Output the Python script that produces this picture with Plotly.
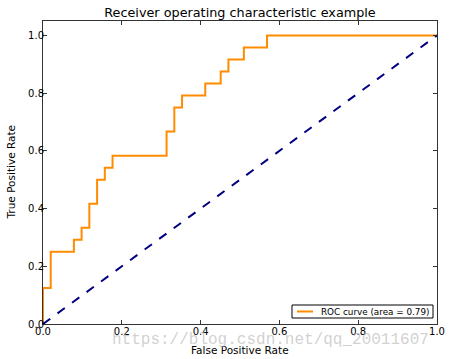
import plotly.graph_objects as go

fpr = [0.0, 0.0, 0.0196, 0.0196, 0.0784, 0.0784, 0.0980, 0.0980, 0.1176, 0.1176,
       0.1373, 0.1373, 0.1569, 0.1569, 0.1765, 0.1765, 0.3137, 0.3137, 0.3333, 0.3333,
       0.3529, 0.3529, 0.4118, 0.4118, 0.4510, 0.4510, 0.4706, 0.4706, 0.5098, 0.5098,
       0.5686, 0.5686, 1.0]
tpr = [0.0, 0.125, 0.125, 0.25, 0.25, 0.2917, 0.2917, 0.3333, 0.3333, 0.4167,
       0.4167, 0.5, 0.5, 0.5417, 0.5417, 0.5833, 0.5833, 0.6667, 0.6667, 0.75,
       0.75, 0.7917, 0.7917, 0.8333, 0.8333, 0.875, 0.875, 0.9167, 0.9167, 0.9583,
       0.9583, 1.0, 1.0]
chance_x = [0.0, 1.0]
chance_y = [0.0, 1.0]
roc_auc = 0.79
tick_vals = [0.0, 0.2, 0.4, 0.6, 0.8, 1.0]
tick_text = ["0.0", "0.2", "0.4", "0.6", "0.8", "1.0"]

font = "DejaVu Sans"
ORANGE = "#FF8C00"

# plot area in pixels
L, R, T, B = 43, 437, 21, 324
W, H = 450, 359
pw, ph = R - L, B - T

def px(x):
    return (x - L) / pw

def py(y):
    return (B - y) / ph

fig = go.Figure()
fig.add_trace(go.Scatter(x=fpr, y=tpr, mode="lines",
                         line=dict(color=ORANGE, width=2),
                         name="ROC curve (area = %0.2f)" % roc_auc, showlegend=False))
fig.add_trace(go.Scatter(x=chance_x, y=chance_y, mode="lines",
                         line=dict(color="navy", width=2, dash="dash"),
                         showlegend=False))

axis_common = dict(showgrid=False, zeroline=False, showline=True, linecolor="#333333",
                   linewidth=1, mirror="allticks", ticks="inside", ticklen=4,
                   tickcolor="#333333", tickvals=tick_vals, ticktext=tick_text,
                   automargin=False,
                   tickfont=dict(family=font, size=10, color="black"))

fig.update_layout(
    width=W, height=H,
    margin=dict(l=L, r=W - R, t=T, b=H - B),
    paper_bgcolor="white", plot_bgcolor="white",
    font=dict(family=font, color="black"),
    title=dict(text="Receiver operating characteristic example",
               x=(L + R) / 2 / W, xanchor="center", y=1 - 12.5 / H, yanchor="middle",
               font=dict(family=font, size=12.8, color="black")),
    xaxis=dict(range=[0, 1], ticklabelstandoff=-2, **axis_common),
    yaxis=dict(range=[0, 1.05], ticklabelstandoff=-4, **axis_common),
    showlegend=False,
)

# axis titles
fig.add_annotation(text="False Positive Rate", xref="paper", yref="paper",
                   x=0.5, y=py(350), xanchor="center", yanchor="middle", showarrow=False,
                   font=dict(family=font, size=10.5, color="black"))
fig.add_annotation(text="True Positive Rate", xref="paper", yref="paper",
                   x=px(10), y=0.5, xanchor="center", yanchor="middle", showarrow=False,
                   textangle=-90, font=dict(family=font, size=10.5, color="black"))

# legend box (matplotlib style)
fig.add_shape(type="rect", xref="paper", yref="paper",
              x0=px(292), x1=px(433), y0=py(318), y1=py(305),
              line=dict(color="black", width=1), fillcolor="white", layer="above")
fig.add_shape(type="line", xref="paper", yref="paper",
              x0=px(297), x1=px(313), y0=py(311.5), y1=py(311.5),
              line=dict(color=ORANGE, width=2), layer="above")
fig.add_annotation(text="ROC curve (area = %0.2f)" % roc_auc, xref="paper", yref="paper",
                   x=px(319), y=py(311.5), xanchor="left", yanchor="middle", showarrow=False,
                   font=dict(family=font, size=8.8, color="black"))

# watermark
fig.add_annotation(text="https://blog.csdn.net/qq_20011607", xref="paper", yref="paper",
                   x=px(110), y=py(340), xanchor="left", yanchor="middle",
                   showarrow=False,
                   font=dict(family="Liberation Mono", size=16, color="rgba(170,170,170,0.55)"))

fig.write_html("out.html",
               config={"displayModeBar": False},
               post_script="document.body.style.margin='0';document.body.style.overflow='hidden';")
